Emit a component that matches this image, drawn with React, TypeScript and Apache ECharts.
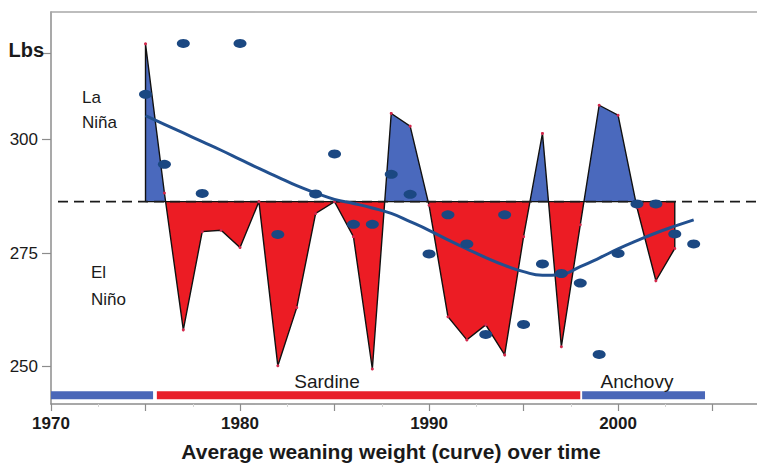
import { useEffect, useRef } from 'react';
import * as echarts from 'echarts';

// ---- data ----
const BASELINE = 286.3;
const years = [1975, 1976, 1977, 1978, 1979, 1980, 1981, 1982, 1983, 1984, 1985, 1986, 1987, 1988, 1989, 1990, 1991, 1992, 1993, 1994, 1995, 1996, 1997, 1998, 1999, 2000, 2001, 2002, 2003];
const weaningValues = [321.0, 288.2, 258.1, 279.7, 280.0, 276.2, 286.3, 250.2, 263.0, 283.7, 286.3, 278.6, 249.5, 305.7, 302.9, 285.5, 261.0, 255.9, 259.2, 252.6, 278.6, 301.3, 254.4, 281.2, 307.5, 305.3, 285.0, 268.9, 276.0];

const dotYears = [1975, 1976, 1977, 1978, 1980, 1982, 1984, 1985, 1986, 1987, 1988, 1989, 1990, 1991, 1992, 1993, 1994, 1995, 1996, 1997, 1998, 1999, 2000, 2001, 2002, 2003, 2004];
const dotValues = [309.9, 294.5, 321.1, 288.1, 321.1, 279.1, 288.0, 296.8, 281.3, 281.3, 292.3, 287.9, 274.8, 283.4, 277.0, 257.1, 283.4, 259.3, 272.6, 270.5, 268.4, 252.7, 274.9, 285.8, 285.8, 279.2, 277.0];

const curveYears = [1975, 1976, 1977, 1978, 1979, 1980, 1981, 1982, 1983, 1984, 1985, 1986, 1987, 1988, 1989, 1990, 1991, 1992, 1993, 1994, 1995, 1996, 1997, 1998, 1999, 2000, 2001, 2002, 2003, 2004];
const curveValues = [305.2, 303.3, 301.4, 299.5, 297.6, 295.6, 293.6, 291.7, 289.8, 288.2, 286.8, 285.9, 284.9, 283.7, 281.9, 280.0, 277.9, 275.9, 274.0, 272.3, 270.9, 270.1, 270.3, 272.0, 273.9, 275.9, 277.7, 279.4, 280.9, 282.3];

const regimeNames = ['', 'Sardine', 'Anchovy'];
const regimeStarts = [1970, 1975.6, 1998.1];
const regimeEnds = [1975.4, 1998.0, 2004.6];
const regimeKinds = ['cool', 'warm', 'cool'];
const REGIME_LEVEL = 243.7;

const xTickValues = [1970, 1975, 1980, 1985, 1990, 1995, 2000, 2005];
const xLabelValues = [1970, 1980, 1990, 2000];
const yTickValues = [250, 275, 300, 319];
const yLabelValues = [250, 275, 300];

// ---- styles ----
const BLUE_FILL = '#4a69bd';
const RED_FILL = '#ec1c24';
const BAR_BLUE = '#4a67b8';
const BAR_RED = '#e8202a';
const DOT_BLUE = '#1b4882';
const CURVE_BLUE = '#22508f';
const AXIS_GREY = '#8c8c8c';
const TEXT = '#1a1a1a';
const FONT = 'Liberation Sans, Arial, Helvetica, sans-serif';

export default function App() {
  const ref = useRef<HTMLDivElement>(null);

  useEffect(() => {
    const chart = echarts.init(ref.current!, null, { renderer: 'svg' });

    const areaData: number[][] = [
      [years[0], BASELINE],
      ...years.map((y, i) => [y, weaningValues[i]]),
      [years[years.length - 1], BASELINE],
    ];
    const vertexData = years.map((y, i) => [y, weaningValues[i]]);
    const dots = dotYears.map((y, i) => [y, dotValues[i]]);
    const curve = curveYears.map((y, i) => [y, curveValues[i]]);

    const regimeSeries = regimeNames.map((name, i) => ({
      type: 'line',
      name: 'regime-' + i,
      data: [
        [regimeStarts[i], REGIME_LEVEL],
        [regimeEnds[i], REGIME_LEVEL],
      ],
      symbol: 'none',
      lineStyle: { color: regimeKinds[i] === 'warm' ? BAR_RED : BAR_BLUE, width: 8, cap: 'butt' },
      z: 3,
      silent: true,
    }));

    const xMin = 1970;
    const xMax = 2007.35;

    const option: any = {
      animation: false,
      textStyle: { fontFamily: FONT },
      grid: { left: 51, right: 0, top: 12, bottom: 59, outerBoundsMode: 'none', containLabel: false },
      visualMap: {
        show: false,
        type: 'piecewise',
        dimension: 1,
        seriesIndex: 0,
        pieces: [
          { gte: 0, lt: BASELINE, color: RED_FILL },
          { gte: BASELINE, lte: 1000, color: BLUE_FILL },
        ],
        outOfRange: { color: RED_FILL },
      },
      xAxis: [
        {
          type: 'value',
          min: xMin,
          max: xMax,
          interval: 5,
          axisLine: { show: true, onZero: false, lineStyle: { color: AXIS_GREY, width: 1.5 } },
          axisTick: { show: true, length: 7, customValues: xTickValues, lineStyle: { color: AXIS_GREY, width: 1.2 } },
          minorTick: { show: true, splitNumber: 2, length: 3, lineStyle: { color: '#d4d4d4', width: 1 } },
          axisLabel: {
            margin: 11,
            fontSize: 17,
            fontWeight: 'bold',
            color: TEXT,
            customValues: xLabelValues,
            formatter: (v: number) => String(v),
          },
          splitLine: { show: false },
        },
        {
          type: 'value',
          position: 'top',
          min: xMin,
          max: xMax,
          axisLine: { show: true, onZero: false, lineStyle: { color: '#a8a8a8', width: 1.5 } },
          axisTick: { show: false },
          axisLabel: { show: false },
          splitLine: { show: false },
        },
      ],
      yAxis: {
        type: 'value',
        min: 241.8,
        max: 328,
        axisLine: { show: true, onZero: false, lineStyle: { color: AXIS_GREY, width: 1.5 } },
        axisTick: { show: true, length: 9, customValues: yTickValues, lineStyle: { color: AXIS_GREY, width: 1.2 } },
        axisLabel: {
          margin: 13,
          fontSize: 17,
          color: TEXT,
          customValues: yLabelValues,
          formatter: (v: number) => String(v),
        },
        splitLine: { show: false },
      },
      series: [
        {
          type: 'line',
          name: 'anomaly',
          data: areaData,
          symbol: 'none',
          lineStyle: { color: '#111', width: 1.4, join: 'miter' },
          areaStyle: { origin: BASELINE, opacity: 1 },
          z: 2,
          silent: true,
        },
        {
          type: 'line',
          name: 'base-solid',
          data: [
            [years[0], BASELINE],
            [years[years.length - 1], BASELINE],
          ],
          symbol: 'none',
          lineStyle: { color: '#111', width: 1.4 },
          z: 3,
          silent: true,
        },
        {
          type: 'line',
          name: 'base-dashed',
          data: [
            [1970.37, BASELINE],
            [xMax, BASELINE],
          ],
          symbol: 'none',
          lineStyle: { color: '#1a1a1a', width: 1.6, type: [10, 6] },
          z: 4,
          silent: true,
        },
        {
          type: 'scatter',
          name: 'vertices',
          data: vertexData,
          symbol: 'circle',
          symbolSize: 3,
          itemStyle: { color: '#d3264a', opacity: 1 },
          z: 5,
          silent: true,
        },
        {
          type: 'line',
          name: 'trend',
          data: curve,
          smooth: true,
          symbol: 'none',
          lineStyle: { color: CURVE_BLUE, width: 3 },
          z: 6,
          silent: true,
        },
        {
          type: 'scatter',
          name: 'weights',
          data: dots,
          symbol: 'circle',
          symbolSize: [13, 9],
          itemStyle: { color: DOT_BLUE, opacity: 1 },
          z: 7,
          silent: true,
        },
        ...regimeSeries,
      ],
      graphic: [
        { type: 'text', left: 8.5, top: 40, z: 10, style: { text: 'Lbs', fontSize: 20, fontWeight: 'bold', fill: TEXT, fontFamily: FONT } },
        { type: 'text', x: 82, y: 97, z: 10, style: { text: 'La', fontSize: 17, fill: TEXT, fontFamily: FONT, verticalAlign: 'middle' } },
        { type: 'text', x: 82, y: 122, z: 10, style: { text: 'Niña', fontSize: 17, fill: TEXT, fontFamily: FONT, verticalAlign: 'middle' } },
        { type: 'text', x: 91, y: 272.5, z: 10, style: { text: 'El', fontSize: 17, fill: TEXT, fontFamily: FONT, verticalAlign: 'middle' } },
        { type: 'text', x: 91, y: 299, z: 10, style: { text: 'Niño', fontSize: 17, fill: TEXT, fontFamily: FONT, verticalAlign: 'middle' } },
        { type: 'text', x: 327, y: 381, z: 10, style: { text: regimeNames[1], fontSize: 19, fill: TEXT, fontFamily: FONT, align: 'center', verticalAlign: 'middle' } },
        { type: 'text', x: 637, y: 381, z: 10, style: { text: regimeNames[2], fontSize: 19, fill: TEXT, fontFamily: FONT, align: 'center', verticalAlign: 'middle' } },
        { type: 'text', x: 391, y: 451, z: 10, style: { text: 'Average weaning weight (curve) over time', fontSize: 21, fontWeight: 'bold', fill: TEXT, fontFamily: FONT, align: 'center', verticalAlign: 'middle' } },
      ],
    };

    chart.setOption(option);
    return () => chart.dispose();
  }, []);

  return <div ref={ref} style={{ position: 'absolute', left: 0, top: 0, width: 757, height: 463, background: '#fff' }} />;
}
